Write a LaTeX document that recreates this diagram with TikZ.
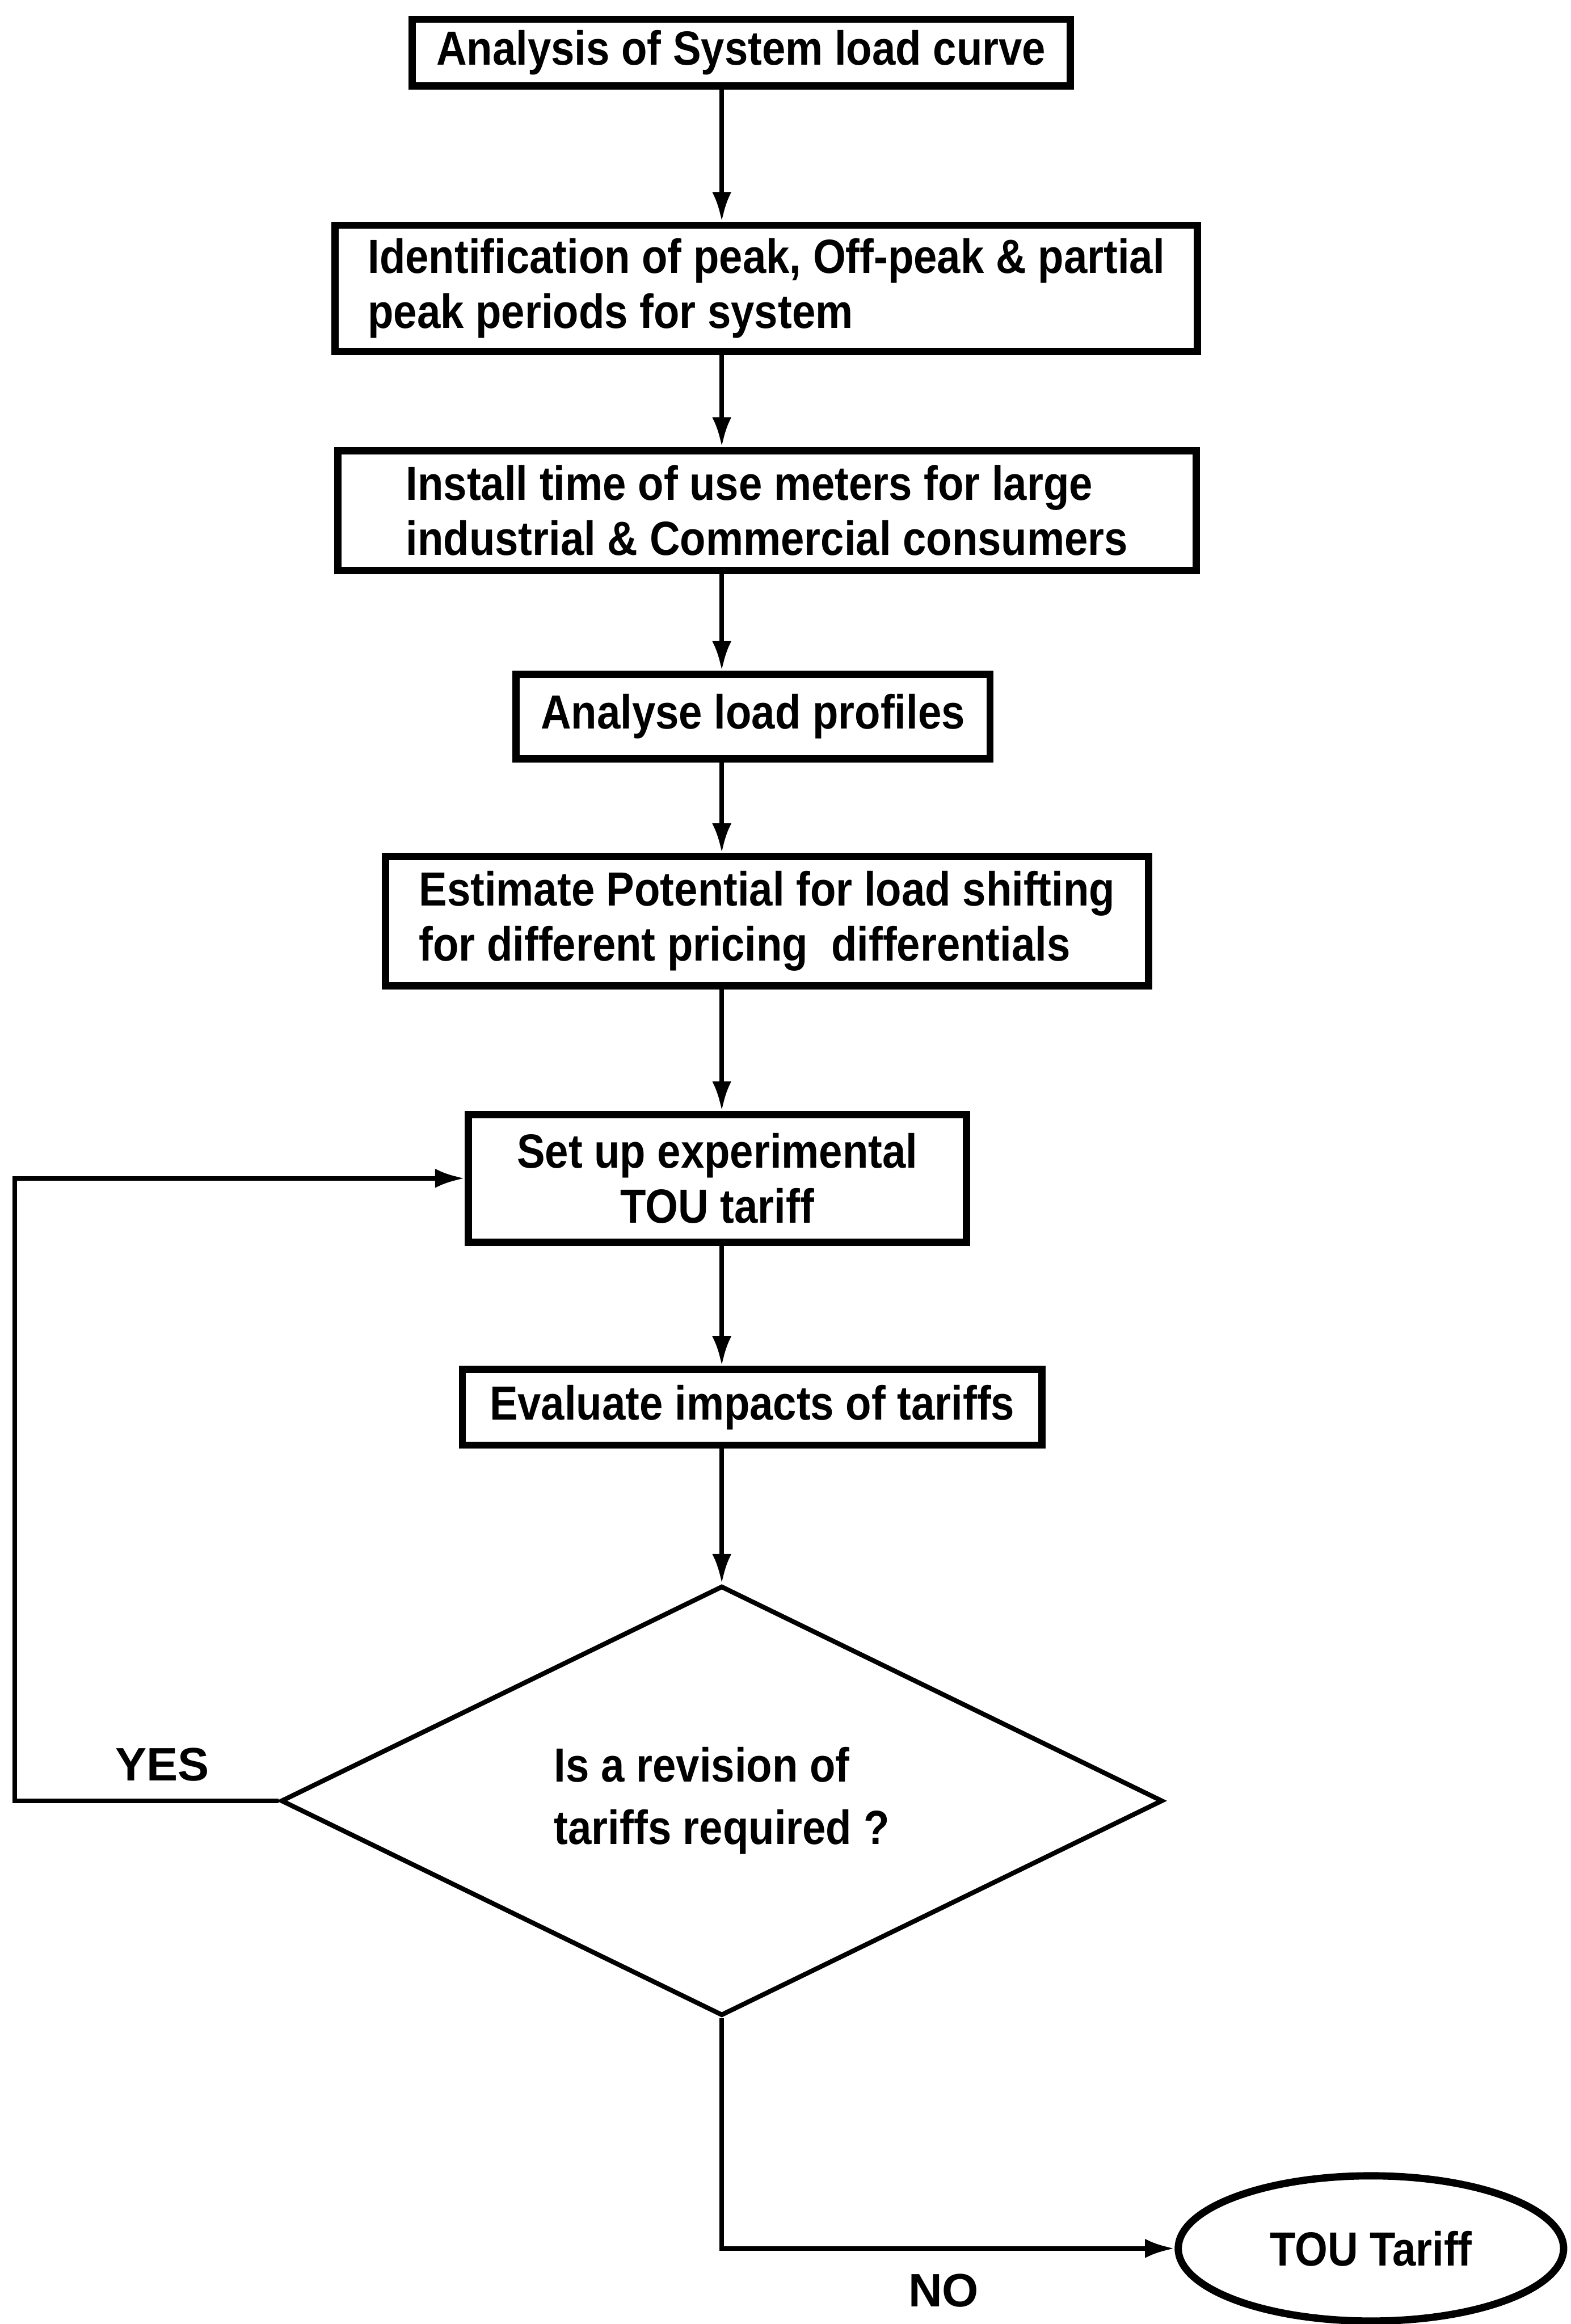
\documentclass[tikz,border=0pt]{standalone}
\usepackage{fontspec}
\setmainfont{Liberation Sans}
\newfontfamily\boxfont{Liberation Sans}[FakeStretch=0.88]
\usetikzlibrary{arrows.meta,shapes.geometric}

\begin{document}
\begin{tikzpicture}[
    box/.style={draw, line width=1.4pt, align=left, inner sep=0pt,
      font=\boxfont\bfseries\fontsize{9.2}{10.6}\selectfont},
    arr/.style={line width=0.9pt, -{Latex[length=0.2cm,width=0.13cm]}},
    lbl/.style={font=\bfseries\fontsize{9}{10}\selectfont}]
    % frame
    \useasboundingbox (0,0) rectangle (10.6,-15.68);
    \coordinate (spine) at (4.87,0);
    \coordinate (loopx) at (0.10,0);

    % Draw process boxes
    \node[box, minimum width=4.44cm, minimum height=0.45cm] (b1) at (5.00,-0.355) {Analysis of System load curve};
    \node[box, minimum width=5.82cm, minimum height=0.85cm] (b2) at (5.17,-1.945) {Identification of peak, Off-peak \& partial\\peak periods for system};
    \node[box, minimum width=5.79cm, minimum height=0.81cm] (b3) at (5.175,-3.445) {Install time of use meters for large\\industrial \& Commercial consumers};
    \node[box, minimum width=3.20cm, minimum height=0.57cm] (b4) at (5.08,-4.835) {Analyse load profiles};
    \node[box, minimum width=5.15cm, minimum height=0.87cm] (b5) at (5.175,-6.215) {Estimate Potential for load shifting\\for different pricing\ \ differentials};
    \node[box, align=center, minimum width=3.36cm, minimum height=0.86cm] (b6) at (4.84,-7.95) {Set up experimental\\TOU tariff};
    \node[box, minimum width=3.91cm, minimum height=0.51cm] (b7) at (5.075,-9.495) {Evaluate impacts of tariffs};

    % Decision and result
    \node[box, diamond, line width=0.9pt, aspect=2, minimum width=5.95cm, minimum height=2.9cm,
      font=\boxfont\bfseries\fontsize{9.2}{12}\selectfont] (dia) at (4.87,-12.15) {Is a revision of\\tariffs required ?};
    \node[box, ellipse, minimum width=2.6cm, minimum height=0.98cm] (tou) at (9.25,-15.17) {TOU Tariff};

    % Draw arrows
    \foreach \a/\b in {b1/b2,b2/b3,b3/b4,b4/b5,b5/b6,b6/b7,b7/dia}
      \draw[arr] (\a.south -| spine) -- (\b.north -| spine);
    \draw[arr] (dia.west) -- node[lbl, above, pos=.44] {YES} (dia.west -| loopx) |- (b6.west);
    \draw[arr] (dia.south) |- node[lbl, below=0.04cm, pos=.745] {NO} (tou.west);
\end{tikzpicture}
\end{document}
